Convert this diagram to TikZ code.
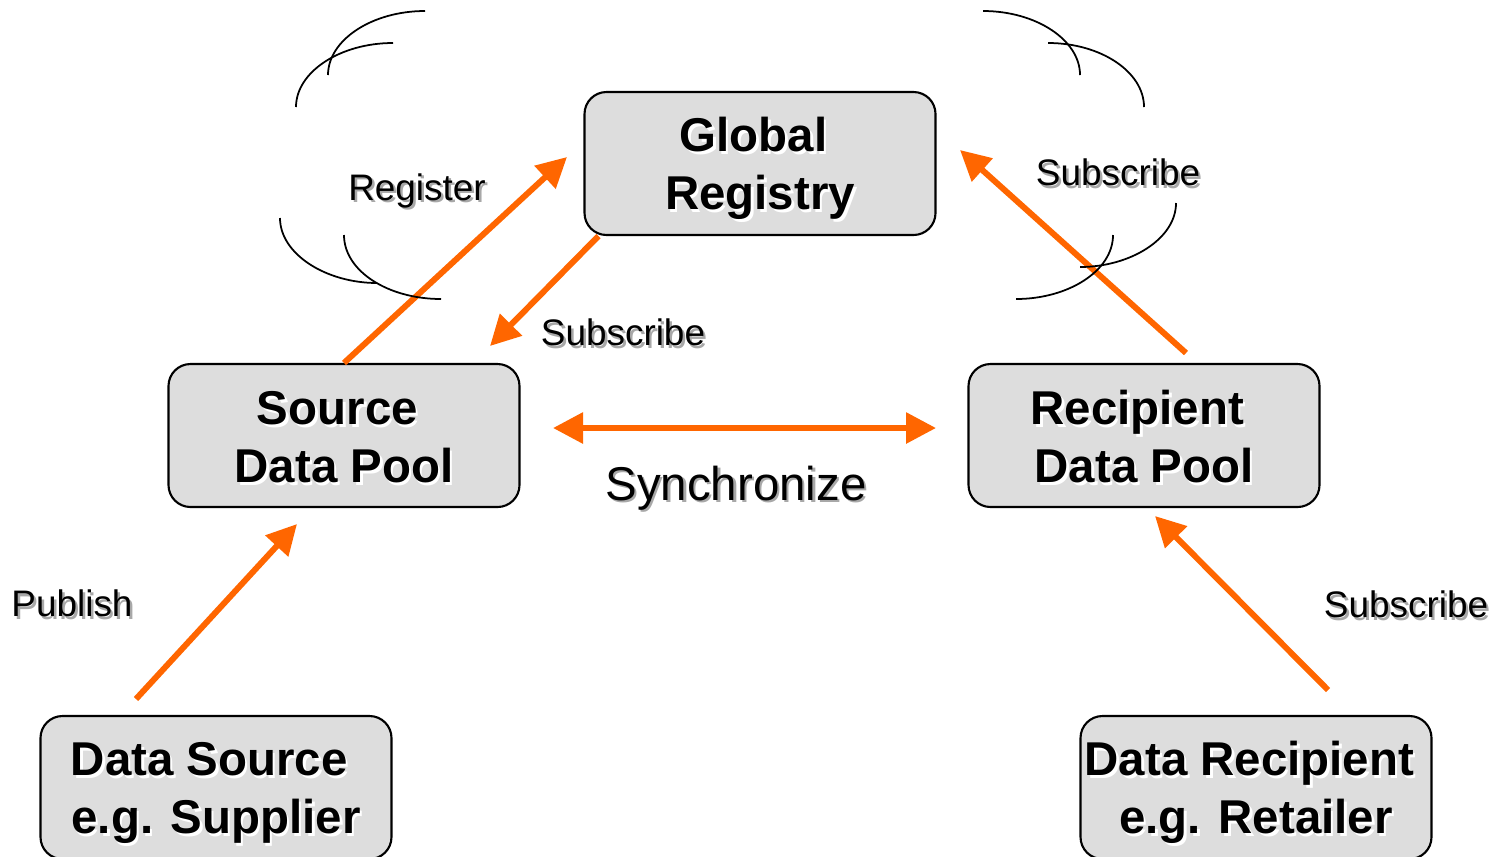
\documentclass[tikz,border=0pt]{standalone}
\usepackage{fontspec}
\setmainfont{Liberation Sans}
\usetikzlibrary{arrows.meta}

\definecolor{flowor}{HTML}{FF6600}
\definecolor{poolgray}{HTML}{DDDDDD}
\definecolor{shadegray}{HTML}{A8A8A8}
% text with a small drop shadow
\newcommand\shtext[2]{\makebox[0pt][l]{\hspace{0.7pt}\raisebox{-0.7pt}{\textcolor{#1}{#2}}}#2}
% two lines of box text (first line keeps its trailing space)
\newcommand\pooltext[2]{\rule{0pt}{13.5pt}\shtext{white}{#1}\kern0.28em\\\shtext{white}{#2}\rule[-3pt]{0pt}{0pt}}

\begin{document}
\begin{tikzpicture}[x=0.1mm,y=-0.1mm,
  >={Triangle[length=3mm,width=3mm]},
  every node/.style={font=\fontsize{10.5}{12.6}\selectfont},
  pool/.style={draw=black,line width=0.6pt,fill=poolgray,rounded corners=2.2mm,
    minimum width=35.1mm,minimum height=14.3mm,inner sep=0pt,align=center,
    font=\fontsize{13.5}{16.5}\selectfont\bfseries},
  flow/.style={draw=flowor,line width=1.7pt},
  cloud/.style={line width=0.5pt}]

  \useasboundingbox (0,0) rectangle (1498,856);

  % Specification of nodes (position, etc.)
  \node[pool] (reg) at (760,163.5) {\pooltext{Global}{Registry}};
  \node[pool] (src) at (344,435.5) {\pooltext{Source}{Data Pool}};
  \node[pool] (rcp) at (1144,435.5) {\pooltext{Recipient}{Data Pool}};
  \node[pool] (sup) at (216,787.5) {\pooltext{Data Source}{e.g. Supplier}};
  \node[pool] (ret) at (1256,787.5) {\pooltext{Data Recipient}{e.g. Retailer}};

  % labels
  \node (lreg) at (417,192) {\shtext{shadegray}{Register}};
  \node (lsubl) at (623,334) {\shtext{shadegray}{Subscribe}};
  \node (lsubr) at (1118,174) {\shtext{shadegray}{Subscribe}};
  \node[font=\fontsize{13.5}{16}\selectfont] (lsync) at (736,489) {\shtext{shadegray}{Synchronize}};
  \node (lpub) at (72,605) {\shtext{shadegray}{Publish}};
  \node (lsubb) at (1406,606) {\shtext{shadegray}{Subscribe}};

  % free ends of the arrows
  \coordinate (regtip) at (567,157);
  \coordinate (subltip) at (490,346);
  \coordinate (subrfoot) at (1186,353);
  \coordinate (subrtip) at (960,150);
  \coordinate (syncl) at (553,428);
  \coordinate (syncr) at (936,428);
  \coordinate (pubfoot) at (136,699);
  \coordinate (pubtip) at (297,524);
  \coordinate (subbfoot) at (1328,690);
  \coordinate (subbtip) at (1155,516);

  \begin{scope}[flow]
    \draw[->] (src.north) -- (regtip);
    \draw[->] ([xshift=1.5mm]reg.south west) -- (subltip);
    \draw[->] (subrfoot) -- (subrtip);
    \draw[<->] (syncl) -- (syncr);
    \draw[->] (pubfoot) -- (pubtip);
    \draw[->] (subbfoot) -- (subbtip);
  \end{scope}

  % cloud arcs round the labels
  \begin{scope}[cloud]
    \draw (425,11) .. controls (372,11) and (328,40) .. (328,75);
    \draw (393,43) .. controls (340,43) and (296,72) .. (296,107);
    \draw (280,218) .. controls (280,254) and (326,283) .. (377,283);
    \draw (344,235) .. controls (344,271) and (388,299) .. (441,299);
    \draw (983,11) .. controls (1036,11) and (1080,40) .. (1080,75);
    \draw (1048,43) .. controls (1101,43) and (1144,72) .. (1144,107);
    \draw (1176,203) .. controls (1176,239) and (1130,267) .. (1080,267);
    \draw (1113,235) .. controls (1113,271) and (1068,299) .. (1016,299);
  \end{scope}

\end{tikzpicture}
\end{document}
